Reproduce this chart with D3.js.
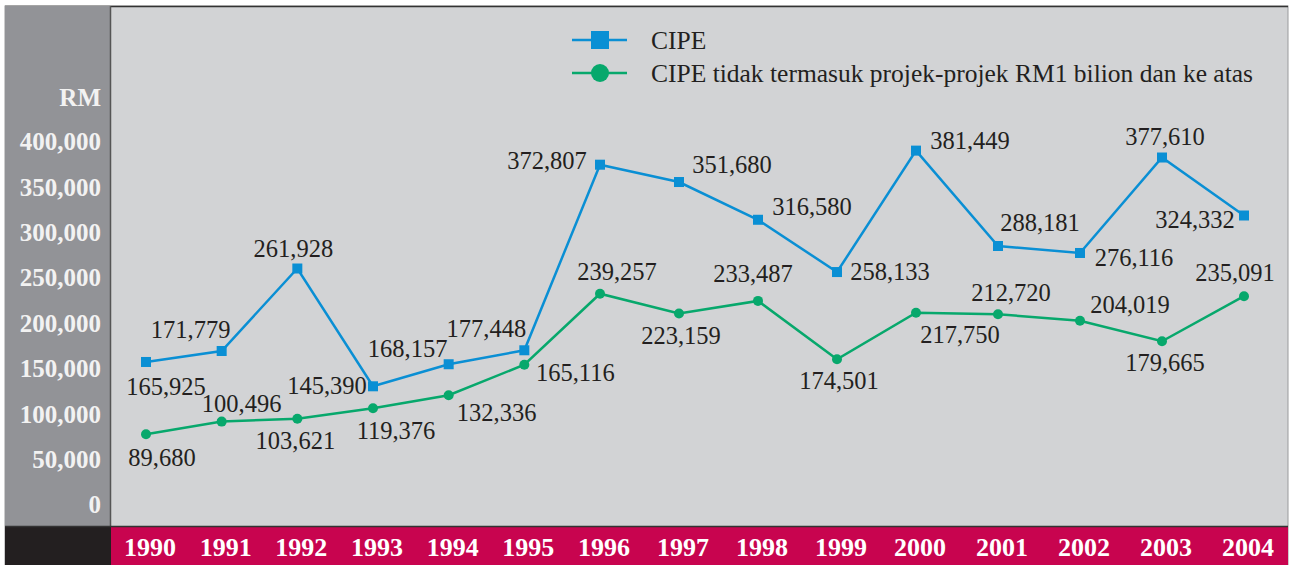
<!DOCTYPE html>
<html>
<head>
<meta charset="utf-8">
<script src="https://cdn.jsdelivr.net/npm/d3@7"></script>
<style>
  body { margin: 0; background: #fff; }
  svg { display: block; }
</style>
</head>
<body>
<svg id="chart" width="1289" height="565"></svg>
<script>
// Data
const years = [1990, 1991, 1992, 1993, 1994, 1995, 1996, 1997, 1998, 1999, 2000, 2001, 2002, 2003, 2004];

// values as plotted against the RM axis
const cipe = [156500, 168600, 259500, 129700, 154000, 169400, 373900, 354800, 313200, 255600, 389400, 284300, 276600, 381800, 317900];
const cipeExcl = [76900, 90800, 94000, 105500, 119800, 153500, 231700, 209900, 223800, 159500, 210700, 209100, 202000, 179300, 229000];

// values as printed beside the points
const cipeLabels = ["165,925", "171,779", "261,928", "145,390", "168,157", "177,448", "372,807", "351,680", "316,580", "258,133", "381,449", "288,181", "276,116", "377,610", "324,332"];
const cipeExclLabels = ["89,680", "100,496", "103,621", "119,376", "132,336", "165,116", "239,257", "223,159", "233,487", "174,501", "217,750", "212,720", "204,019", "179,665", "235,091"];

const yTicks = [0, 50000, 100000, 150000, 200000, 250000, 300000, 350000, 400000];
const seriesNames = ["CIPE", "CIPE tidak termasuk projek-projek RM1 bilion dan ke atas"];

// Colours
const blue = "#0a8fd4";
const green = "#07a86c";
const serif = "'Liberation Serif', 'Times New Roman', serif";

const svg = d3.select("svg#chart");

// Frame
svg.append("rect").attr("x", 5).attr("y", 6).attr("width", 1283).attr("height", 559)
  .style("fill", "#d2d3d5").style("stroke", "#9a9a9c").style("stroke-width", 1);
svg.append("line").attr("x1", 5).attr("x2", 1288).attr("y1", 6.5).attr("y2", 6.5)
  .style("stroke", "#333").style("stroke-width", 1.5);
svg.append("rect").attr("x", 5).attr("y", 6).attr("width", 105).attr("height", 521)
  .style("fill", "#929397");
svg.append("line").attr("x1", 110.5).attr("x2", 110.5).attr("y1", 6).attr("y2", 527)
  .style("stroke", "#555").style("stroke-width", 1.5);
svg.append("rect").attr("x", 5).attr("y", 526).attr("width", 106).attr("height", 39)
  .style("fill", "#231f20");
svg.append("rect").attr("x", 111).attr("y", 526).attr("width", 1177).attr("height", 39)
  .style("fill", "#c8044f");
svg.append("line").attr("x1", 5).attr("x2", 1288).attr("y1", 526.5).attr("y2", 526.5)
  .style("stroke", "#333").style("stroke-width", 1.5);

// Scales
const x = d3.scaleLinear()
  .domain([1990, 1996, 2000, 2004])
  .range([146, 600, 916, 1244]);
const y = d3.scaleLinear()
  .domain([0, 400000])
  .range([504, 141]);

// Y axis
const yAxis = svg.append("g")
  .attr("transform", "translate(101,0)")
  .call(d3.axisLeft(y).tickValues(yTicks).tickSize(0).tickPadding(0)
    .tickFormat(d3.format(",")));
yAxis.select(".domain").remove();
yAxis.selectAll("text")
  .attr("dy", "0.35em")
  .style("font-family", serif)
  .style("font-size", "25px")
  .style("font-weight", "bold")
  .style("fill", "#f2f2f2");

svg.append("text")
  .attr("x", 101).attr("y", 97).attr("dy", "0.35em")
  .attr("text-anchor", "end")
  .style("font-family", serif).style("font-size", "25px").style("font-weight", "bold")
  .style("fill", "#f2f2f2")
  .text("RM");

// X axis labels
svg.append("g").selectAll("text")
  .data(years)
  .join("text")
    .attr("x", d => x(d) + 4)
    .attr("y", 547).attr("dy", "0.35em")
    .attr("text-anchor", "middle")
    .style("font-family", serif).style("font-size", "26px").style("font-weight", "bold")
    .style("fill", "#fff")
    .text(d => d);

// Lines
const line = d3.line()
  .x((d, i) => x(years[i]))
  .y(d => y(d));

svg.append("path").datum(cipeExcl).attr("d", line)
  .style("fill", "none").style("stroke", green).style("stroke-width", 2.5);
svg.append("path").datum(cipe).attr("d", line)
  .style("fill", "none").style("stroke", blue).style("stroke-width", 2.5);

svg.append("g").selectAll("circle")
  .data(cipeExcl)
  .join("circle")
    .attr("cx", (d, i) => x(years[i]))
    .attr("cy", d => y(d))
    .attr("r", 5)
    .style("fill", green);

svg.append("g").selectAll("rect")
  .data(cipe)
  .join("rect")
    .attr("x", (d, i) => x(years[i]) - 5)
    .attr("y", d => y(d) - 5)
    .attr("width", 10).attr("height", 10)
    .style("fill", blue);

// Label offsets from each point (label centre)
const cipeOffsets = [[20, 24], [-31, -22], [-4, -20], [-46, -1], [-41, -16], [-38, -22], [-53, -4],
  [53, -18], [54, -13], [53, -1], [54, -10], [42, -24], [54, 4], [3, -21], [-49, 4]];
const exclOffsets = [[16, 23], [20, -18], [-2, 22], [23, 22], [48, 17], [51, 8], [17, -22],
  [2, 22], [-5, -27], [2, 21], [44, 22], [13, -22], [50, -16], [3, 21], [-9, -24]];

function addLabels(values, labels, offsets) {
  svg.append("g").selectAll("text")
    .data(values)
    .join("text")
      .attr("x", (d, i) => x(years[i]) + offsets[i][0])
      .attr("y", (d, i) => y(d) + offsets[i][1])
      .attr("dy", "0.35em")
      .attr("text-anchor", "middle")
      .style("font-family", serif).style("font-size", "24.5px")
      .style("fill", "#231f20")
      .text((d, i) => labels[i]);
}
addLabels(cipe, cipeLabels, cipeOffsets);
addLabels(cipeExcl, cipeExclLabels, exclOffsets);

// Legend
const legend = svg.append("g");
[blue, green].forEach((c, i) => {
  const ly = 40 + i * 33;
  legend.append("line").attr("x1", 572).attr("x2", 627).attr("y1", ly).attr("y2", ly)
    .style("stroke", c).style("stroke-width", 2.5);
  if (i === 0)
    legend.append("rect").attr("x", 591).attr("y", ly - 9).attr("width", 18).attr("height", 18)
      .style("fill", c);
  else
    legend.append("circle").attr("cx", 600).attr("cy", ly).attr("r", 9).style("fill", c);
  legend.append("text")
    .attr("x", 651).attr("y", ly).attr("dy", "0.35em")
    .style("font-family", serif).style("font-size", "25.5px")
    .style("fill", "#231f20")
    .text(seriesNames[i]);
});
</script>
</body>
</html>
